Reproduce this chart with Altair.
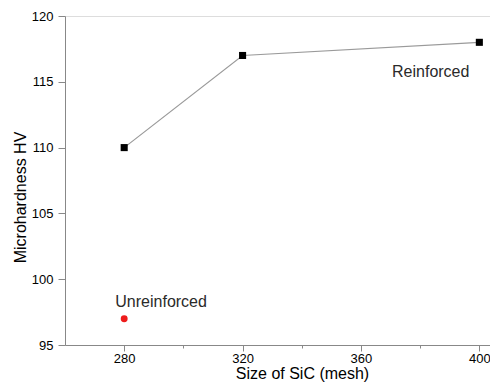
import altair as alt
import pandas as pd

# Data
mesh = [280, 320, 400]
hv_reinforced = [110, 117, 118]
mesh_unreinforced = [280]
hv_unreinforced = [97]

ann_text = ["Reinforced", "Unreinforced"]
ann_x = [370.5, 277.0]
ann_y = [115.4, 97.9]

x_ticks = [280, 300, 320, 340, 360, 380, 400]
y_ticks = [95, 97.5, 100, 102.5, 105, 107.5, 110, 112.5, 115, 117.5, 120]

df_r = pd.DataFrame({"mesh": mesh, "hv": hv_reinforced})
df_u = pd.DataFrame({"mesh": mesh_unreinforced, "hv": hv_unreinforced})
df_a = pd.DataFrame({"mesh": ann_x, "hv": ann_y, "label": ann_text})

FONT = "Liberation Sans"
AX = "#333333"

x_scale = alt.Scale(domain=[260, 403.6], nice=False, zero=False)
y_scale = alt.Scale(domain=[95, 120], nice=False, zero=False)

x_axis = alt.Axis(
    values=x_ticks,
    labelExpr="datum.value % 40 === 0 ? datum.label : ''",
    tickSize={"condition": {"test": "datum.value % 40 === 0", "value": 6}, "value": 3},
    grid=False,
    title="Size of SiC (mesh)",
    titleX=237,
    titleY=33,
    titleAlign="center",
    titleBaseline="alphabetic",
    labelPadding=1,
    labelFontSize=13,
    titleFontSize=16,
    titleFontWeight="normal",
    labelFlush=False,
)
y_axis = alt.Axis(
    values=y_ticks,
    labelExpr="datum.value % 5 === 0 ? datum.label : ''",
    tickSize={"condition": {"test": "datum.value % 5 === 0", "value": 7}, "value": 4},
    grid=False,
    title="Microhardness HV",
    titleX=-45,
    titleY=181,
    titleAngle=-90,
    titleAlign="center",
    titleBaseline="middle",
    labelPadding=5,
    labelFontSize=13,
    titleFontSize=16,
    titleFontWeight="normal",
    labelFlush=False,
)

x_enc = alt.X("mesh:Q", scale=x_scale, axis=x_axis)
y_enc = alt.Y("hv:Q", scale=y_scale, axis=y_axis)

line = alt.Chart(df_r).mark_line(color="#9a9a9a", strokeWidth=1.2).encode(x=x_enc, y=y_enc)
squares = alt.Chart(df_r).mark_point(shape="square", filled=True, color="#000000", size=50, opacity=1).encode(
    x="mesh:Q", y="hv:Q"
)
red = alt.Chart(df_u).mark_point(shape="circle", filled=True, color="#ee1c1c", size=48, opacity=1).encode(
    x="mesh:Q", y="hv:Q"
)
text = alt.Chart(df_a).mark_text(
    align="left", baseline="alphabetic", fontSize=16, font=FONT, color="#2a2a2a"
).encode(x="mesh:Q", y="hv:Q", text="label:N")

chart = (
    alt.layer(line, squares, red, text)
    .properties(
        width=425,
        height=329,
        autosize=alt.AutoSizeParams(type="none"),
        padding={"left": 57, "top": 8, "right": 0, "bottom": 37},
    )
    .configure_view(stroke=None)
    .configure_axis(
        domainColor=AX,
        tickColor=AX,
        labelColor="#222222",
        titleColor="#222222",
        labelFont=FONT,
        titleFont=FONT,
        domainWidth=1,
        tickWidth=1,
    )
    .configure(background="white")
)

chart.save("out.html", embed_options={"renderer": "svg", "actions": False})
